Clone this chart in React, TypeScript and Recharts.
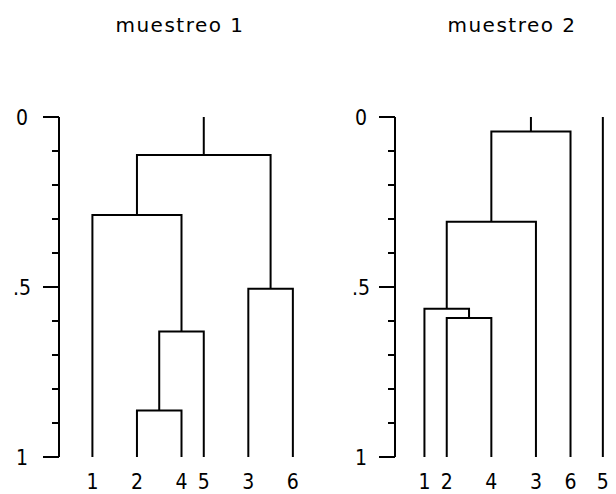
import React from 'react';
import { LineChart, Line, XAxis, YAxis } from 'recharts';

const titles = ['muestreo 1', 'muestreo 2'];

const yTicks = [0, 0.1, 0.2, 0.3, 0.4, 0.5, 0.6, 0.7, 0.8, 0.9, 1];
const yMajor = [0, 0.5, 1];
const yMajorLabels = ['0', '.5', '1'];

// muestreo 1: leaves in plotted order, positions along the base
const leafLabels1 = ['1', '2', '4', '5', '3', '6'];
const leafPos1 = [0, 2, 4, 5, 7, 9];
// [left child, right child, height]; child >= leaf count means merge (child - leafCount)
const merges1: [number, number, number][] = [
  [1, 2, 0.863],
  [6, 3, 0.631],
  [0, 7, 0.288],
  [4, 5, 0.505],
  [8, 9, 0.112],
];
const roots1 = [10];

// muestreo 2
const leafLabels2 = ['1', '2', '4', '3', '6', '5'];
const leafPos2 = [0, 1, 3, 5, 6.55, 8];
const merges2: [number, number, number][] = [
  [1, 2, 0.591],
  [0, 6, 0.564],
  [7, 3, 0.308],
  [8, 4, 0.043],
];
const roots2 = [9, 5];

type Pt = { x: number; y: number };

function buildLinks(pos: number[], merges: [number, number, number][], roots: number[]) {
  const nodes: Pt[] = pos.map((p) => ({ x: p, y: 1 }));
  const links: Pt[][] = [];
  merges.forEach(([a, b, h]) => {
    const l = nodes[a];
    const r = nodes[b];
    links.push([
      { x: l.x, y: l.y },
      { x: l.x, y: h },
      { x: r.x, y: h },
      { x: r.x, y: r.y },
    ]);
    nodes.push({ x: (l.x + r.x) / 2, y: h });
  });
  roots.forEach((i) => {
    const n = nodes[i];
    links.push([
      { x: n.x, y: n.y },
      { x: n.x, y: 0 },
    ]);
  });
  return links;
}

const FONT = '"DejaVu Sans Condensed", "DejaVu Sans", sans-serif';
const INK = '#000';

function makeYTick(labelOffset: number) {
  return (props: any) => {
    const { x, y, payload } = props;
    const mi = yMajor.indexOf(payload.value);
    const len = mi >= 0 ? 16 : 7;
    return (
      <g>
        <line x1={x - len} x2={x} y1={y} y2={y} stroke={INK} strokeWidth={2} />
        {mi >= 0 && (
          <text x={x - labelOffset} y={y + 7.5} textAnchor="middle" fontSize={21} fontFamily={FONT} fill={INK}>
            {yMajorLabels[mi]}
          </text>
        )}
      </g>
    );
  };
}

function makeXTick(pos: number[], labels: string[]) {
  return (props: any) => {
    const { x, y, payload } = props;
    const i = pos.indexOf(payload.value);
    return (
      <text x={x} y={y + 32} textAnchor="middle" fontSize={21} fontFamily={FONT} fill={INK}>
        {labels[i]}
      </text>
    );
  };
}

interface PanelProps {
  pos: number[];
  labels: string[];
  merges: [number, number, number][];
  roots: number[];
  domain: [number, number];
  marginLeft: number;
  marginRight: number;
  axisWidth: number;
  labelOffset: number;
}

function Dendrogram({ pos, labels, merges, roots, domain, marginLeft, marginRight, axisWidth, labelOffset }: PanelProps) {
  const links = buildLinks(pos, merges, roots);
  return (
    <LineChart width={308} height={494} margin={{ top: 117, right: marginRight, bottom: 0, left: marginLeft }}>
      <XAxis
        type="number"
        dataKey="x"
        domain={domain}
        ticks={pos}
        interval={0}
        axisLine={false}
        tickLine={false}
        tickSize={0}
        tickMargin={0}
        height={37}
        tick={makeXTick(pos, labels)}
      />
      <YAxis
        type="number"
        domain={[0, 1]}
        reversed
        ticks={yTicks}
        interval={0}
        width={axisWidth}
        tickLine={false}
        tickSize={0}
        tickMargin={0}
        axisLine={{ stroke: INK, strokeWidth: 2 }}
        tick={makeYTick(labelOffset)}
      />
      {links.map((d, i) => (
        <Line
          key={i}
          data={d}
          dataKey="y"
          type="linear"
          stroke={INK}
          strokeWidth={2}
          dot={false}
          isAnimationActive={false}
        />
      ))}
    </LineChart>
  );
}

export default function App() {
  return (
    <div style={{ position: 'absolute', left: 0, top: 0, width: 616, height: 494, background: '#fff' }}>
      {[180, 512].map((cx, i) => (
        <div
          key={i}
          style={{
            position: 'absolute',
            left: cx - 100,
            top: 15,
            width: 200,
            textAlign: 'center',
            fontFamily: '"DejaVu Sans", sans-serif',
            fontSize: 20,
            lineHeight: '20px',
            letterSpacing: 1.5,
            color: INK,
          }}
        >
          {titles[i]}
        </div>
      ))}
      <div style={{ position: 'absolute', left: 0, top: 0 }}>
        <Dendrogram
          pos={leafPos1}
          labels={leafLabels1}
          merges={merges1}
          roots={roots1}
          domain={[-1.5, 9.5]}
          marginLeft={0}
          marginRight={4}
          axisWidth={59}
          labelOffset={37}
        />
      </div>
      <div style={{ position: 'absolute', left: 308, top: 0 }}>
        <Dendrogram
          pos={leafPos2}
          labels={leafLabels2}
          merges={merges2}
          roots={roots2}
          domain={[-1.32, 8.5]}
          marginLeft={27}
          marginRight={2}
          axisWidth={60}
          labelOffset={34}
        />
      </div>
    </div>
  );
}
